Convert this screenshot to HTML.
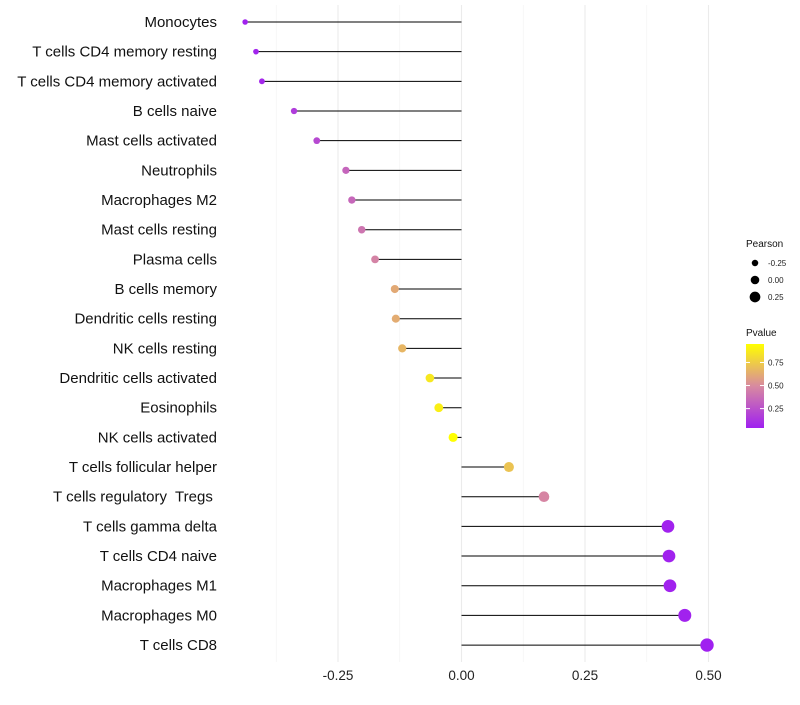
<!DOCTYPE html>
<html><head><meta charset="utf-8"><style>
body{margin:0;background:#fff;font-family:"Liberation Sans",sans-serif}
text{white-space:pre}
</style></head><body>
<svg id="chart" width="800" height="700"></svg>
<script>
const categories=["Monocytes","T cells CD4 memory resting","T cells CD4 memory activated","B cells naive","Mast cells activated","Neutrophils","Macrophages M2","Mast cells resting","Plasma cells","B cells memory","Dendritic cells resting","NK cells resting","Dendritic cells activated","Eosinophils","NK cells activated","T cells follicular helper","T cells regulatory  Tregs ","T cells gamma delta","T cells CD4 naive","Macrophages M1","Macrophages M0","T cells CD8"];
const pearson=[-0.438,-0.416,-0.404,-0.339,-0.293,-0.234,-0.222,-0.202,-0.175,-0.135,-0.133,-0.120,-0.064,-0.046,-0.017,0.096,0.167,0.418,0.420,0.422,0.452,0.497];
const pvalues=[0.05,0.06,0.07,0.16,0.22,0.34,0.35,0.41,0.47,0.62,0.63,0.67,0.86,0.89,0.95,0.72,0.48,0.05,0.05,0.05,0.05,0.04];
const xTicks=[-0.25,0,0.25,0.5];
const xTickLabels=["-0.25","0.00","0.25","0.50"];
const sizeLegend=[-0.25,0,0.25];
const colorTicks=[0.25,0.5,0.75];
const NS="http://www.w3.org/2000/svg";
const svg=document.getElementById('chart');
function el(t,a,p){const e=document.createElementNS(NS,t);for(const k in a)e.setAttribute(k,a[k]);(p||svg).appendChild(e);return e;}
const x=v=>461.5+v*494;
const y=i=>22+i*29.67;
const r=v=>4.6+4.2*v;
const stops=[[0.04,[160,32,240]],[0.5,[216,138,160]],[0.95,[255,255,0]]];
function col(p){p=Math.max(0.04,Math.min(0.95,p));let a=stops[0],b=stops[1];if(p>stops[1][0]){a=stops[1];b=stops[2];}const t=(p-a[0])/(b[0]-a[0]);const c=a[1].map((v,i)=>Math.round(v+(b[1][i]-v)*t));return `rgb(${c})`;}
[-0.375,-0.125,0.125,0.375].forEach(v=>{const g=el('line',{x1:x(v),x2:x(v),y1:5,y2:662,stroke:'#f2f2f2','stroke-width':0.6});});
xTicks.forEach((v,i)=>{const g=el('line',{x1:x(v),x2:x(v),y1:5,y2:662,stroke:'#ebebeb','stroke-width':1.1});
const t=el('text',{x:x(v),y:680,'text-anchor':'middle','font-size':13.5,fill:'#222'});t.textContent=xTickLabels[i];});
categories.forEach((c,i)=>{
const t=el('text',{x:217,y:y(i)+5,'text-anchor':'end','font-size':15,fill:'#111'});t.textContent=c;
const l=el('line',{x1:x(0),x2:x(pearson[i]),y1:y(i),y2:y(i),stroke:'#000','stroke-width':1});
const d=el('circle',{cx:x(pearson[i]),cy:y(i),r:r(pearson[i]),fill:col(pvalues[i])});
});
let t=el('text',{x:746,y:247,'font-size':10,fill:'#111'});t.textContent='Pearson';
sizeLegend.forEach((v,i)=>{const cy=263+i*17;const c=el('circle',{cx:755,cy:cy,r:r(v)-0.3,fill:'#000'});
const tt=el('text',{x:768,y:cy+3,'font-size':8,fill:'#222'});tt.textContent=v.toFixed(2);});
t=el('text',{x:746,y:336,'font-size':10,fill:'#111'});t.textContent='Pvalue';
const defs=el('defs',{});const lg=el('linearGradient',{id:'g',x1:0,y1:1,x2:0,y2:0},defs);
[0,0.5,1].forEach((o,i)=>el('stop',{offset:o,'stop-color':`rgb(${stops[i][1]})`},lg));
const bar=el('rect',{x:746,y:344,width:18,height:84,fill:'url(#g)'});
const cy=p=>428-(p-0.04)/(0.95-0.04)*84;
colorTicks.forEach(v=>{el('line',{x1:746,x2:750,y1:cy(v),y2:cy(v),stroke:'#fff'});el('line',{x1:760,x2:764,y1:cy(v),y2:cy(v),stroke:'#fff'});
const tt=el('text',{x:768,y:cy(v)+3,'font-size':8,fill:'#222'});tt.textContent=v.toFixed(2);});
</script>
</body></html>
